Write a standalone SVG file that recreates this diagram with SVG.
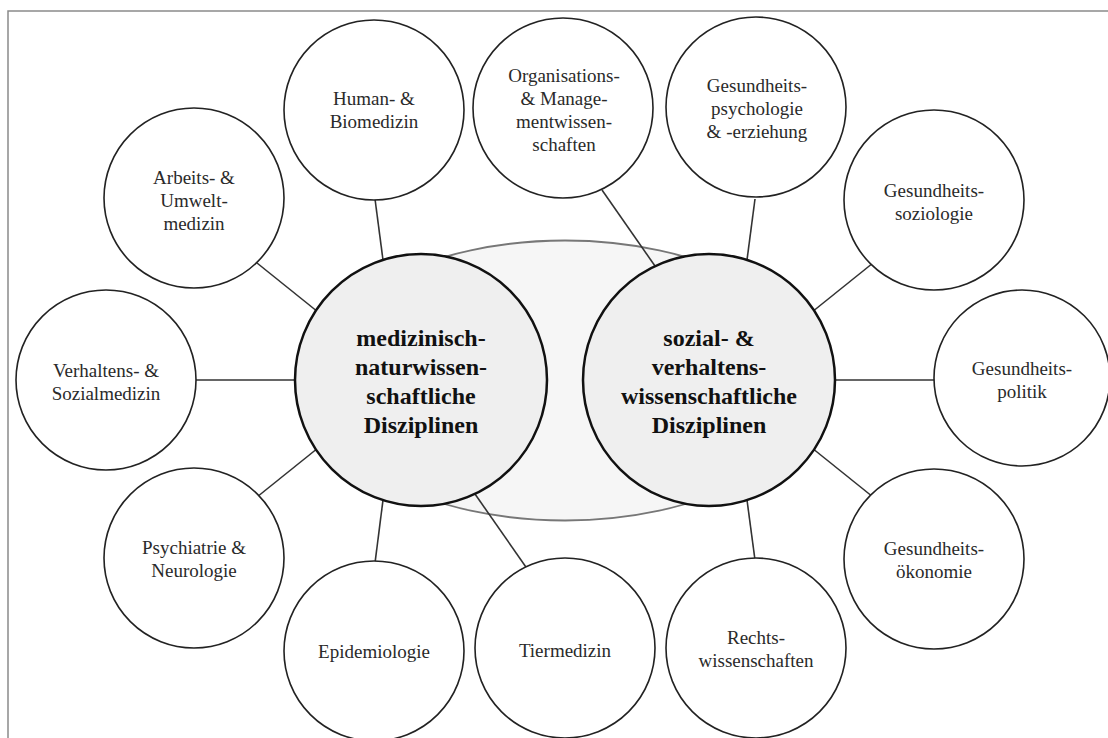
<svg xmlns="http://www.w3.org/2000/svg" width="1108" height="738" viewBox="0 0 1108 738">
<style>
.frame{fill:none;stroke:#8a8a8a;stroke-width:1.5}
.ell{fill:#f6f6f6;stroke:#777;stroke-width:1.8}
.core{fill:#efefef;stroke:#111;stroke-width:2.5}
.sat{fill:#fff;stroke:#222;stroke-width:1.6}
.con line{stroke:#333;stroke-width:1.6}
text{font-family:'Liberation Serif','DejaVu Serif','Times New Roman',serif}
.t{font-size:19px;fill:#2a2a2a;text-anchor:middle}
.b{font-size:24px;font-weight:bold;fill:#111;text-anchor:middle}
</style>
<rect width="1108" height="738" fill="#fff"/>
<path class="frame" d="M8,738 V11 H1108"/>
<ellipse id="overlap" class="ell" cx="565" cy="380.5" rx="256" ry="140"/>
<g id="connectors" class="con">
<line x1="375" y1="199" x2="383" y2="260"/>
<line x1="257" y1="263" x2="318" y2="312"/>
<line x1="194" y1="380" x2="297" y2="380"/>
<line x1="257" y1="497" x2="318" y2="448"/>
<line x1="375" y1="563" x2="383" y2="500"/>
<line x1="528" y1="570" x2="475" y2="494"/>
<line x1="602" y1="190" x2="655" y2="266"/>
<line x1="755" y1="199" x2="747" y2="260"/>
<line x1="873" y1="263" x2="812" y2="312"/>
<line x1="833" y1="380" x2="936" y2="380"/>
<line x1="873" y1="497" x2="812" y2="448"/>
<line x1="755" y1="560" x2="747" y2="500"/>
</g>
<g id="core-medizin">
<circle class="core" cx="421" cy="380" r="126"/>
<text class="b" font-family="Liberation Serif, DejaVu Serif, serif"><tspan x="421" y="346">medizinisch-</tspan><tspan x="421" y="375">naturwissen-</tspan><tspan x="421" y="404">schaftliche</tspan><tspan x="421" y="433">Disziplinen</tspan></text>
</g>
<g id="core-sozial">
<circle class="core" cx="709" cy="380" r="126"/>
<text class="b" font-family="Liberation Serif, DejaVu Serif, serif"><tspan x="709" y="346">sozial- &amp;</tspan><tspan x="709" y="375">verhaltens-</tspan><tspan x="709" y="404">wissenschaftliche</tspan><tspan x="709" y="433">Disziplinen</tspan></text>
</g>
<g id="human">
<circle class="sat" cx="374" cy="110" r="90"/>
<text class="t" font-family="Liberation Serif, DejaVu Serif, serif"><tspan x="374" y="105">Human- &amp;</tspan><tspan x="374" y="128">Biomedizin</tspan></text>
</g>
<g id="arbeits">
<circle class="sat" cx="194" cy="198" r="90"/>
<text class="t" font-family="Liberation Serif, DejaVu Serif, serif"><tspan x="194" y="184">Arbeits- &amp;</tspan><tspan x="194" y="207">Umwelt-</tspan><tspan x="194" y="230">medizin</tspan></text>
</g>
<g id="verhaltens">
<circle class="sat" cx="106" cy="380" r="90"/>
<text class="t" font-family="Liberation Serif, DejaVu Serif, serif"><tspan x="106" y="377">Verhaltens- &amp;</tspan><tspan x="106" y="400">Sozialmedizin</tspan></text>
</g>
<g id="psychiatrie">
<circle class="sat" cx="194" cy="558" r="90"/>
<text class="t" font-family="Liberation Serif, DejaVu Serif, serif"><tspan x="194" y="554">Psychiatrie &amp;</tspan><tspan x="194" y="577">Neurologie</tspan></text>
</g>
<g id="epidemiologie">
<circle class="sat" cx="374" cy="651" r="90"/>
<text class="t" font-family="Liberation Serif, DejaVu Serif, serif" x="374" y="658">Epidemiologie</text>
</g>
<g id="tiermedizin">
<circle class="sat" cx="565" cy="648" r="90"/>
<text class="t" font-family="Liberation Serif, DejaVu Serif, serif" x="565" y="657">Tiermedizin</text>
</g>
<g id="organisation">
<circle class="sat" cx="563" cy="108" r="90"/>
<text class="t" font-family="Liberation Serif, DejaVu Serif, serif"><tspan x="564" y="82">Organisations-</tspan><tspan x="564" y="105">&amp; Manage-</tspan><tspan x="564" y="128">mentwissen-</tspan><tspan x="564" y="151">schaften</tspan></text>
</g>
<g id="gpsych">
<circle class="sat" cx="756" cy="107" r="90"/>
<text class="t" font-family="Liberation Serif, DejaVu Serif, serif"><tspan x="757" y="92">Gesundheits-</tspan><tspan x="757" y="115">psychologie</tspan><tspan x="757" y="138">&amp; -erziehung</tspan></text>
</g>
<g id="gsoz">
<circle class="sat" cx="934" cy="200" r="90"/>
<text class="t" font-family="Liberation Serif, DejaVu Serif, serif"><tspan x="934" y="197">Gesundheits-</tspan><tspan x="934" y="220">soziologie</tspan></text>
</g>
<g id="gpol">
<circle class="sat" cx="1022" cy="378" r="88"/>
<text class="t" font-family="Liberation Serif, DejaVu Serif, serif"><tspan x="1022" y="375">Gesundheits-</tspan><tspan x="1022" y="398">politik</tspan></text>
</g>
<g id="goek">
<circle class="sat" cx="934" cy="559" r="90"/>
<text class="t" font-family="Liberation Serif, DejaVu Serif, serif"><tspan x="934" y="555">Gesundheits-</tspan><tspan x="934" y="578">ökonomie</tspan></text>
</g>
<g id="recht">
<circle class="sat" cx="756" cy="648" r="90"/>
<text class="t" font-family="Liberation Serif, DejaVu Serif, serif"><tspan x="756" y="644">Rechts-</tspan><tspan x="756" y="667">wissenschaften</tspan></text>
</g>
</svg>
